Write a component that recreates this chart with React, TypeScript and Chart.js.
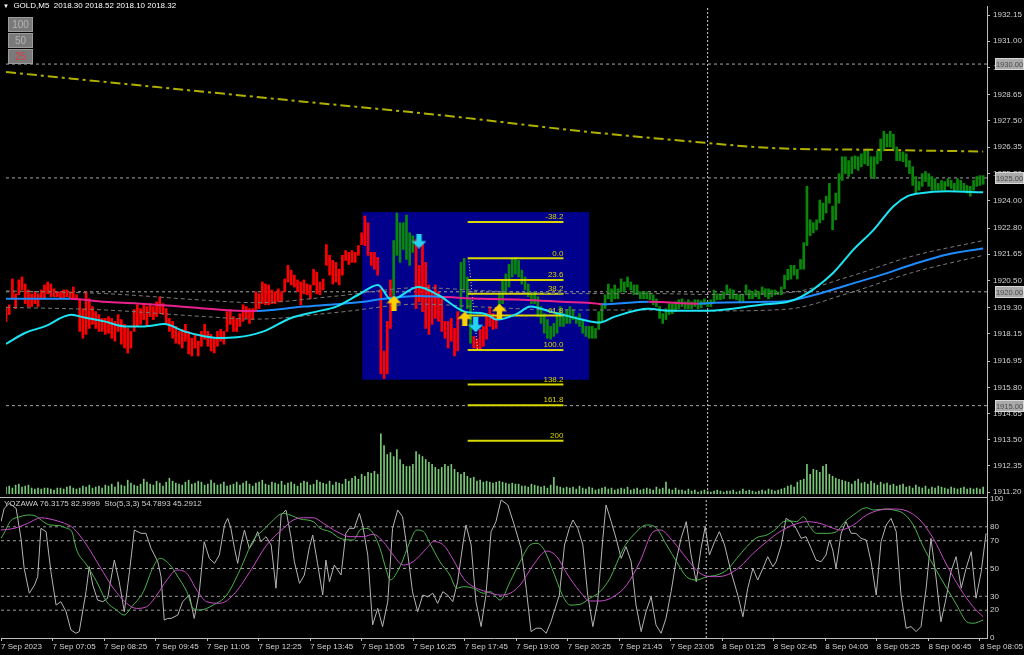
import React, { useEffect, useRef } from "react";
import { Chart, registerables } from "chart.js";

Chart.register(...registerables);

// ---------- DATA ----------
const timeLabels = ["7 Sep 2023","7 Sep 07:05","7 Sep 08:25","7 Sep 09:45","7 Sep 11:05","7 Sep 12:25","7 Sep 13:45","7 Sep 15:05","7 Sep 16:25","7 Sep 17:45","7 Sep 19:05","7 Sep 20:25","7 Sep 21:45","7 Sep 23:05","8 Sep 01:25","8 Sep 02:45","8 Sep 04:05","8 Sep 05:25","8 Sep 06:45","8 Sep 08:05"];
const barsPerLabel = 16;

const priceTicks = [1911.20,1912.35,1913.50,1914.65,1915.80,1916.95,1918.15,1919.30,1920.50,1921.65,1922.80,1924.00,1925.20,1926.35,1927.50,1928.65,1929.85,1931.00,1932.15];
const stochTicks = [0,20,30,50,70,80,100];
const stochLevels = [80,70,50,30,20];

const highs = [
1919.30,1919.43,1920.56,1919.91,1920.52,1920.65,1920.34,1920.08,1919.91,1920.00,
1919.91,1920.08,1920.30,1920.43,1920.34,1920.13,1920.00,1920.00,1920.08,1920.08,
1920.00,1920.21,1919.87,1919.69,1919.26,1920.00,1919.69,1919.35,1919.13,1919.00,
1918.83,1918.83,1918.91,1918.83,1918.70,1919.00,1918.78,1918.57,1918.39,1918.26,
1919.22,1919.43,1919.26,1919.48,1919.35,1919.48,1919.35,1919.56,1919.78,1919.48,
1919.26,1918.83,1918.70,1918.48,1918.26,1918.35,1918.57,1918.26,1917.96,1918.13,
1917.83,1918.26,1918.57,1918.26,1918.13,1917.96,1918.26,1918.35,1918.26,1919.13,
1919.22,1918.91,1918.83,1919.04,1919.43,1919.35,1919.26,1919.26,1920.00,1919.91,
1920.43,1920.34,1920.30,1920.08,1920.00,1920.13,1920.00,1920.56,1921.16,1920.95,
1920.73,1920.52,1920.43,1920.52,1920.34,1920.30,1920.99,1920.86,1920.43,1920.56,
1922.07,1921.60,1921.38,1921.29,1920.99,1921.60,1921.81,1921.73,1921.81,1921.73,
1922.03,1922.59,1923.33,1923.03,1921.73,1921.73,1921.51,1920.13,1917.40,1918.70,
1920.52,1922.25,1923.46,1923.03,1923.03,1923.37,1922.59,1922.46,1922.29,1921.16,
1922.16,1921.29,1920.30,1920.00,1920.30,1920.00,1919.69,1918.70,1918.70,1918.83,
1918.39,1919.13,1921.29,1921.47,1920.65,1919.65,1918.04,1917.92,1918.35,1918.48,
1919.04,1919.35,1919.04,1918.91,1919.91,1920.52,1920.78,1921.20,1921.42,1921.51,
1921.38,1920.95,1920.65,1920.34,1919.91,1920.00,1919.78,1919.35,1919.04,1918.78,
1918.48,1918.61,1919.04,1919.35,1919.04,1919.22,1919.35,1919.22,1918.91,1919.04,
1918.78,1918.48,1918.48,1918.48,1918.39,1919.13,1919.48,1919.87,1920.34,1920.13,
1920.30,1920.13,1920.56,1920.43,1920.65,1920.43,1920.30,1920.30,1920.00,1920.00,
1920.00,1919.95,1919.87,1919.69,1919.35,1919.04,1919.26,1919.48,1919.48,1919.56,
1919.65,1919.69,1919.56,1919.65,1919.56,1919.65,1919.65,1919.60,1919.69,1919.56,
1919.65,1920.08,1919.91,1919.91,1920.00,1920.30,1920.13,1920.08,1919.91,1919.87,
1919.87,1920.30,1920.08,1920.00,1920.08,1920.00,1920.21,1920.13,1920.13,1920.08,
1920.08,1920.00,1920.21,1920.73,1920.99,1921.16,1921.16,1920.99,1921.42,1922.16,
1924.63,1923.16,1923.03,1923.16,1924.03,1923.89,1924.20,1924.76,1923.76,1924.33,
1925.19,1925.93,1925.93,1925.76,1925.93,1925.97,1925.93,1926.06,1926.19,1926.27,
1925.93,1925.93,1926.19,1926.71,1927.05,1926.92,1927.05,1926.92,1926.36,1926.14,
1926.14,1926.06,1925.76,1925.49,1925.06,1924.84,1925.19,1925.28,1925.19,1925.06,
1924.97,1924.76,1924.89,1924.84,1924.97,1924.89,1924.76,1924.97,1924.89,1924.76,
1924.67,1924.63,1924.89,1925.06,1925.10,1925.10
];
const lows = [
1918.70,1919.00,1919.69,1919.26,1919.87,1920.08,1919.48,1919.35,1919.35,1919.48,
1919.35,1919.69,1919.69,1919.91,1919.78,1919.78,1919.78,1919.69,1919.69,1919.78,
1919.69,1919.69,1919.65,1918.26,1917.96,1918.13,1918.39,1918.57,1918.39,1918.26,
1918.26,1918.13,1918.18,1917.96,1917.83,1918.26,1917.70,1917.53,1917.31,1917.53,
1918.26,1918.48,1918.57,1918.78,1918.48,1918.91,1918.78,1918.91,1919.04,1919.00,
1918.61,1918.26,1917.96,1917.74,1917.70,1917.53,1917.83,1917.27,1917.18,1917.53,
1917.18,1917.61,1917.92,1917.61,1917.40,1917.31,1917.61,1917.83,1917.70,1918.26,
1918.57,1918.26,1918.26,1918.48,1918.70,1918.83,1918.61,1918.78,1919.13,1919.26,
1919.48,1919.43,1919.43,1919.48,1919.48,1919.56,1919.56,1920.00,1920.43,1920.30,
1920.21,1920.00,1919.43,1919.91,1919.87,1919.69,1920.30,1919.91,1919.87,1920.08,
1921.16,1920.73,1920.34,1920.43,1920.30,1920.73,1921.38,1921.20,1921.29,1921.29,
1921.60,1922.07,1922.03,1921.60,1921.16,1920.99,1920.73,1916.40,1916.19,1916.40,
1918.39,1919.69,1921.60,1921.29,1921.86,1921.42,1921.16,1921.73,1919.26,1919.56,
1919.13,1918.39,1918.13,1918.57,1918.83,1918.70,1918.26,1917.96,1917.53,1917.83,
1917.18,1917.40,1919.13,1920.08,1919.26,1917.74,1917.53,1917.44,1917.48,1917.61,
1917.92,1918.48,1918.35,1918.39,1918.91,1919.48,1919.91,1920.21,1920.65,1920.78,
1920.65,1920.34,1920.08,1919.78,1919.48,1919.48,1918.91,1918.61,1918.18,1917.96,
1917.92,1918.04,1918.18,1918.48,1918.48,1918.61,1918.61,1918.78,1918.61,1918.48,
1918.18,1918.04,1917.96,1917.96,1917.96,1918.35,1918.70,1919.26,1919.69,1919.56,
1919.69,1919.69,1920.00,1920.00,1920.21,1920.08,1919.87,1919.87,1919.69,1919.69,
1919.69,1919.65,1919.43,1919.35,1918.83,1918.61,1918.78,1919.00,1919.04,1919.13,
1919.26,1919.35,1919.26,1919.26,1919.26,1919.35,1919.26,1919.30,1919.43,1919.35,
1919.35,1919.56,1919.65,1919.65,1919.69,1919.87,1919.69,1919.69,1919.65,1919.56,
1919.56,1919.87,1919.69,1919.69,1919.78,1919.69,1919.87,1919.78,1919.69,1919.78,
1919.87,1919.87,1919.87,1920.13,1920.52,1920.56,1920.73,1920.56,1920.99,1920.99,
1922.03,1922.46,1922.59,1922.72,1923.03,1923.16,1923.46,1923.89,1922.72,1923.16,
1923.89,1924.89,1925.19,1925.06,1925.19,1925.41,1925.33,1925.49,1925.62,1925.54,
1925.06,1924.97,1925.62,1925.76,1926.19,1926.36,1926.36,1926.27,1925.76,1925.76,
1925.71,1925.49,1925.19,1924.67,1924.33,1924.46,1924.63,1924.84,1924.63,1924.46,
1924.46,1924.46,1924.46,1924.46,1924.63,1924.54,1924.41,1924.46,1924.46,1924.41,
1924.33,1924.20,1924.46,1924.63,1924.67,1924.72
];
// trend colouring segments: [firstBar, lastBar, direction]
const trendSegments: [number, number, string][] = [[0,120,"down"],[121,127,"up"],[128,141,"down"],[142,145,"up"],[146,153,"down"],[154,305,"up"]];

const tickVolume = [
7,8,6,9,10,7,8,9,6,5,6,5,6,6,5,4,6,6,5,7,8,6,5,6,8,7,9,6,7,8,6,
9,8,10,7,12,9,8,14,11,9,8,10,15,12,10,9,13,11,8,12,16,13,11,10,9,12,14,10,11,13,12,9,10,14,11,9,10,12,8,9,
10,12,9,11,13,10,8,11,12,14,10,9,12,11,10,13,9,11,12,10,8,11,13,12,9,10,14,12,11,10,13,9,12,11,10,
15,13,16,18,15,20,18,22,21,23,20,
61,49,40,42,38,45,35,30,28,28,30,43,40,38,35,32,30,27,25,27,30,28,30,25,22,20,22,18,16,17,13,14,12,13,
12,11,12,13,12,11,10,11,10,10,8,8,7,10,9,8,7,8,6,9,17,8,7,6,7,
6,7,5,8,6,5,7,6,4,5,6,7,5,6,4,5,6,5,7,4,5,6,4,5,6,5,4,7,5,6,12,5,4,6,4,
4,3,5,3,4,2,3,4,3,2,3,4,3,2,3,3,4,2,3,5,3,4,3,2,3,4,3,5,4,3,4,5,6,
8,9,7,12,14,15,30,
20,25,24,22,28,30,20,18,16,15,14,13,
12,10,13,15,11,12,10,13,11,9,12,10,11,9,10,8,9,10,
7,8,6,9,7,6,8,5,7,6,8,7,6,5,7,6,5,6,7,5,6,5,6,5,7
];

// fast moving average (cyan)
const fastMaX = [0,5.9,12.1,20.4,24.5,30.7,37,43.2,49.4,55.6,61.8,65.8,72,80.4,88.8,96.9,103.1,110,116.1,120.2,128.6,134.8,143.2,149.4,153.4,159.6,163.7,169.9,176.1,179.8,185.1,190,200.6,206.8,219.3,235.7,244.1,248.1,252.2,258.4,264.6,270.8,277,281.4,285.4,293.8,305];
const fastMaY = [1917.71,1918.19,1918.48,1918.99,1918.87,1918.70,1918.48,1918.48,1918.58,1918.26,1918.05,1917.97,1918.00,1918.26,1918.84,1919.13,1919.35,1919.87,1920.30,1919.65,1920.21,1919.87,1919.13,1919.04,1918.78,1919.04,1919.35,1919.13,1918.91,1918.78,1918.65,1918.91,1919.26,1919.17,1919.17,1919.43,1919.56,1919.78,1920.13,1920.86,1921.86,1922.72,1923.76,1924.20,1924.33,1924.41,1924.37];
// slow moving average (blue rising / pink falling)
const slowMaX = [0,20,30.7,41,51.6,61.8,74.2,78.3,92.9,103.1,111.5,116.1,128.6,135.7,148.8,161.2,173.6,184.5,186,200.6,216.1,221.1,237.9,244.1,252.2,262.7,273,283.2,293.8,305];
const slowMaY = [1919.69,1919.69,1919.56,1919.49,1919.39,1919.27,1919.16,1919.16,1919.35,1919.45,1919.56,1919.66,1919.82,1919.78,1919.69,1919.65,1919.56,1919.48,1919.45,1919.56,1919.48,1919.52,1919.56,1919.60,1919.86,1920.30,1920.73,1921.21,1921.64,1921.90];
const slowMaFalling: [number, number][] = [[20,78],[135.7,186],[200.6,216.1]];
// envelope around the slow MA
const envX = [0,31,62,78,103,129,149,174,201,221,244,263,283,305];
const envUpper = [1920.04,1919.92,1919.63,1919.52,1919.81,1920.18,1920.05,1919.92,1919.92,1919.88,1919.96,1920.66,1921.57,1922.25];
const envLower = [1919.32,1919.20,1918.91,1918.80,1919.09,1919.46,1919.33,1919.20,1919.20,1919.16,1919.24,1919.94,1920.85,1921.60];
// long moving average (olive dash-dot)
const longMaX = [0,46.3,92.9,139.4,179.8,219.3,237.9,273,305];
const longMaY = [1929.65,1929.00,1928.35,1927.70,1927.05,1926.53,1926.32,1926.23,1926.16];

const hLevels = [1930.00, 1925.00, 1920.00, 1915.00];
const separatorBar = 219;

// Fibonacci object
const fibBoxStart = 111.2, fibBoxEnd = 182, fibBoxHigh = 1923.50, fibBoxLow = 1916.14;
const fibStart = 144.1, fibEnd = 174;
const fibLabels = ["-38.2","0.0","23.6","38.2","61.8","100.0","138.2","161.8","200"];
const fibPrices = [1923.07,1921.47,1920.52,1919.91,1918.96,1917.44,1915.93,1915.02,1913.46];
const fibDiagX = [144.4, 147.2];
const fibDiagY = [1921.47, 1917.44];

// signal arrows
const upArrowX = [121.1, 143.2, 154];
const upArrowY = [1919.50, 1918.81, 1919.15];
const downArrowX = [128.9, 146.6];
const downArrowY = [1922.23, 1918.55];

// lower pane: YOZAWA oscillator (grey) and Stochastic (green main / magenta signal)
const yozawaX = [0,1,2.6,4.7,6.2,7.2,8.8,10.4,11.4,12.4,14,15.5,17.1,18.6,20.2,21.7,23.3,24.3,26.4,27.4,28.5,30,31.6,33.1,35.2,36.7,38.3,39.9,41.4,43.5,45,46.6,48.7,49.7,50.7,51.8,52.8,54.9,56.4,58.5,60,61.6,63.1,64.7,66.3,67.8,69.4,70.4,71.4,72.5,73.5,74.5,75.6,77.1,78.2,79.7,80.7,82.3,83.9,85.4,87,88.5,90.1,91.1,92.7,94.2,95.8,96.8,98.3,99.9,100.9,102,103.5,105.6,107.1,108.2,109.7,111.3,112.3,113.9,115.4,117,118.5,120.1,121.6,123.2,124.7,126.3,127.8,129.4,131,132.5,134.1,135.6,137.2,138.7,140.3,141.8,143.4,144.4,146,147.5,149.1,150.6,152.2,153.7,
155.3,157.4,159.4,161.5,163.1,164.6,166.2,167.7,169.3,170.8,173.4,175,176.5,177.6,179.1,180.7,182.2,183.8,185.3,186.9,187.9,189.5,191,192.6,194.1,195.7,197.2,198.8,200.3,201.9,203.4,205,206.5,208.1,209.6,211.2,212.8,214.3,215.9,217.4,218.7,220,221.6,223.1,224.7,226.7,228.8,230.4,231.9,233.5,235,236.6,238.1,239.7,240.7,242.3,243.8,245.4,246.9,248.5,250,251.6,253.1,254.7,256.2,257.3,258.3,259.3,260.9,262.4,264,265.5,267.1,268.7,270.2,271.8,273.3,274.9,276.4,278,279.5,281.1,282.6,284.2,285.7,287.3,288.8,290.4,291.9,293.5,295,296.6,298.2,299.7,301.3,302.8,304.4,305.9];
const yozawaY = [83.7,93.3,96.9,93.3,71.7,50.1,32.2,38.1,44.1,78.9,76.5,47.7,23.7,26.1,18.9,5.8,3.4,4.6,33.3,51.3,38.1,27.3,26.1,28.6,56.1,40.5,18.9,47.7,77.7,75.3,75.3,64.5,54.9,44.1,12.9,14.1,14.1,16.5,26.1,30.9,14.1,33.3,69.3,57.3,53.7,59.7,81.3,86.1,78.9,64.5,53.7,66.9,77.7,64.5,68.1,76.5,69.3,72.9,66.9,35.8,88.5,92.1,71.7,54.9,39.3,45.3,65.7,74.1,53.7,30.9,56.1,40.5,52.5,45.3,75.3,78.9,78.9,89.7,81.3,59.7,9.4,21.3,8.2,26.1,78.9,92.1,87.3,60.9,33.3,18.9,30.9,29.7,32.2,24.9,33.3,30.9,26.1,40.5,66.9,81.3,66.9,26.1,8.2,30.9,76.5,83.7,
99.3,95.7,81.3,64.5,35.8,4.6,7.0,7.0,3.4,11.7,30.9,66.9,78.9,84.9,78.9,66.9,30.9,8.2,26.1,71.7,95.7,83.7,71.7,57.3,65.7,54.9,23.7,4.6,18.9,29.7,9.4,3.4,14.1,33.3,54.9,71.7,83.7,59.7,40.5,64.5,80.1,59.7,69.3,76.5,66.9,47.7,30.9,15.3,35.8,50.1,41.7,50.1,58.5,51.3,54.9,66.9,86.1,83.7,78.9,71.7,72.9,64.5,56.1,54.9,59.7,70.5,63.3,50.1,75.3,83.7,75.3,75.3,71.7,70.5,54.9,30.9,69.3,81.3,86.1,76.5,30.9,7.0,8.2,4.6,8.2,35.8,71.7,43.0,11.7,28.6,47.7,58.5,35.8,50.1,62.1,28.6,47.7,75.3];
const stochMainX = [0,1.2,2.8,5.9,9,11.1,13.1,15.2,18.3,20.4,22,23.5,26.6,29.7,32.8,35.9,38.2,40.6,44.2,47.3,49.4,52.5,54.6,57.7,59.7,61.8,65.9,70.1,74.2,78.4,81.5,83.5,87.7,89.8,92.9,97,99.1,102.2,105.3,109.4,111.5,113.6,115.6,117.7,119.8,120.8,123.9,127,129.1,131.2,133.2,136.3,139.4,141.5,143.6,146.7,149.8,151.9,155,158.1,161.2,164.3,166.4,168.4,171.5,174.6,176.7,179.8,182.9,186,189.1,193.3,196.4,200.5,203.6,206.7,209.8,212.9,216,219.2,222.3,225.4,228.5,231.6,234.7,237.8,240.9,243,245,247.1,249.2,251.2,253.3,256.4,259.5,261.6,264.7,268.8,270.9,275.1,277.1,280.2,283.3,286.4,289.5,293.7,296.8,299.9,301.9,305];
const stochMainY = [71.7,76.5,83.7,87.3,88.5,87.3,83.7,81.3,80.8,78.9,76.5,63.3,52.5,40.5,26.1,20.1,16.5,22.5,33.3,51.3,57.3,52.5,45.3,33.3,21.3,20.1,23.7,30.9,48.9,70.5,77.7,82.5,89.7,88.5,85.6,83.7,78.9,76.5,71.7,70.5,77.7,78.9,75.3,64.5,47.7,41.7,51.3,69.3,77.7,76.5,68.1,54.9,45.3,35.8,36.9,35.8,32.2,33.3,27.3,40.5,54.9,66.9,68.1,64.5,47.7,29.7,23.7,24.2,28.6,33.3,42.9,64.5,74.1,81.3,78.9,66.9,54.9,44.1,41.7,44.1,45.3,48.9,57.3,65.7,72.2,74.1,78.9,83.7,84.2,83.7,87.3,80.1,75.3,75.3,76.5,82.5,88.5,93.7,92.1,92.8,92.1,89.7,81.3,65.7,52.5,35.8,23.7,11.7,10.6,12.9];
const stochSignalX = [0,4.1,8.3,12.4,15.2,19.7,22.5,26.6,30.7,34.9,39,42.1,45.2,48.4,51.5,54.6,57.7,60.8,63.9,68,72.1,77.3,82.5,87.7,90.8,93.9,97,100.1,104.3,108.4,112.5,115.6,118.7,121.8,124.9,128,132.2,134.3,137.4,140.5,143.6,146.7,150.8,155,158.1,161.2,165.3,169.5,172.6,175.7,179.8,182.9,186,190.2,194.3,198.4,202.6,204.7,208.8,212.9,217.1,221.2,225.4,229.5,233.6,237.8,241.9,246,250.2,254.3,258.5,260.6,264.7,268.8,273,277.1,281.3,285.4,289.5,293.7,297.8,301.9,305];
const stochSignalY = [77.7,78.9,82.5,86.5,85.6,82.5,78.9,66.9,51.3,35.8,25.0,21.3,22.5,30.9,41.7,48.9,46.5,34.5,26.1,25.0,30.9,47.7,66.9,78.9,84.9,86.5,86.5,82.5,76.5,72.9,72.9,74.6,69.3,59.7,52.5,54.9,64.5,69.3,66.9,56.1,42.9,36.9,33.3,30.9,32.2,38.1,52.5,62.6,58.5,46.5,33.3,26.6,26.6,29.7,38.1,54.9,76.5,77.7,69.3,57.3,46.5,44.1,45.3,51.3,60.9,69.3,76.5,81.3,83.7,82.5,78.9,77.7,81.3,88.5,92.1,92.8,91.4,84.9,71.7,52.5,35.8,22.5,15.3];

// ---------- STYLE ----------
const X_MIN = 0, X_MAX = 306.2;
const PRICE_MIN = 1911.12, PRICE_MAX = 1932.55;
const VOL_MAX = 495;
const FONT = "'Liberation Sans', Arial, sans-serif";
const AXIS = "#bdbdbd";
const TXT = "#d2d2d2";
const RED = "#ff0000", GREEN = "#0a870a";
const PINK = "#e8228c", BLUE = "#1e8cff", CYAN = "#1ce4f2";

const pts = (xs: number[], ys: number[]) => xs.map((x, i) => ({ x, y: ys[i] }));
const trendAt = (i: number) => { for (const s of trendSegments) if (i >= s[0] && i <= s[1]) return s[2]; return "up"; };
const isFalling = (x: number) => slowMaFalling.some(([a, b]) => x >= a && x < b);

function makeArrow(color: string, up: boolean) {
  const c = document.createElement("canvas");
  c.width = 15; c.height = 15;
  const g = c.getContext("2d")!;
  g.fillStyle = color;
  const p = [[7.5,0],[15,7.5],[10.2,7.5],[10.2,15],[4.8,15],[4.8,7.5],[0,7.5]];
  g.beginPath();
  p.forEach(([x, y], i) => { const yy = up ? y : 15 - y; if (i) g.lineTo(x, yy); else g.moveTo(x, yy); });
  g.closePath(); g.fill();
  return c;
}

const mainPlugin = {
  id: "mainDecor",
  beforeDatasetsDraw(chart: any) {
    const { ctx, scales } = chart; const x = scales.x, y = scales.y;
    const x0 = x.getPixelForValue(fibBoxStart), x1 = x.getPixelForValue(fibBoxEnd);
    const y0 = y.getPixelForValue(fibBoxHigh), y1 = y.getPixelForValue(fibBoxLow);
    ctx.save(); ctx.fillStyle = "#00008c"; ctx.fillRect(x0, y0, x1 - x0, y1 - y0); ctx.restore();
  },
  afterDatasetsDraw(chart: any) {
    const { ctx, scales } = chart; const x = scales.x, y = scales.y;
    ctx.save();
    ctx.font = `8px ${FONT}`; ctx.fillStyle = "#d4d400"; ctx.textAlign = "right"; ctx.textBaseline = "bottom";
    fibPrices.forEach((p, i) => ctx.fillText(fibLabels[i], x.getPixelForValue(fibEnd), y.getPixelForValue(p) - 1));
    ctx.restore();
  },
  afterDraw(chart: any) {
    const { ctx, scales, chartArea } = chart; const y = scales.y;
    ctx.save();
    ctx.font = `7.5px ${FONT}`; ctx.textBaseline = "middle"; ctx.textAlign = "center";
    hLevels.forEach((v) => {
      const py = Math.round(y.getPixelForValue(v));
      const bx = chartArea.right + 8;
      ctx.fillStyle = "#a9a9a9"; ctx.fillRect(bx, py - 6, 29, 12);
      ctx.strokeStyle = "#d8d8d8"; ctx.lineWidth = 1; ctx.strokeRect(bx + 0.5, py - 5.5, 28, 11);
      ctx.fillStyle = "#4a4a4a"; ctx.fillText(v.toFixed(2), bx + 14.5, py + 0.5);
    });
    ctx.restore();
  },
};

const subPlugin = {
  id: "subDecor",
  afterDraw(chart: any) {
    const { ctx, chartArea } = chart;
    ctx.save(); ctx.strokeStyle = AXIS; ctx.lineWidth = 1;
    ctx.beginPath();
    ctx.moveTo(0, chartArea.top - 1.5); ctx.lineTo(chartArea.right, chartArea.top - 1.5);
    ctx.moveTo(chartArea.right + 0.5, 0); ctx.lineTo(chartArea.right + 0.5, chartArea.top);
    ctx.stroke(); ctx.restore();
  },
};

export default function App() {
  const mainRef = useRef<HTMLCanvasElement>(null);
  const subRef = useRef<HTMLCanvasElement>(null);

  useEffect(() => {
    const upImg = makeArrow("#ffd000", true);
    const downImg = makeArrow("#22d4f0", false);
    const lineBase = { type: "line", pointRadius: 0, fill: false, borderWidth: 1 };

    const main = new Chart(mainRef.current as HTMLCanvasElement, {
      type: "bar",
      data: {
        datasets: [
          { ...lineBase, data: pts(upArrowX, upArrowY), showLine: false, pointStyle: upImg, pointRadius: 5, order: 0 },
          { ...lineBase, data: pts(downArrowX, downArrowY), showLine: false, pointStyle: downImg, pointRadius: 5, order: 0 },
          { ...lineBase, data: pts(fastMaX, fastMaY), borderColor: CYAN, borderWidth: 2, cubicInterpolationMode: "monotone", order: 1 },
          { ...lineBase, data: pts(slowMaX, slowMaY), borderColor: BLUE, borderWidth: 2, cubicInterpolationMode: "monotone", order: 2,
            segment: { borderColor: (c: any) => (isFalling(c.p0.parsed.x) ? PINK : BLUE) } },
          { ...lineBase, data: pts(envX, envUpper), borderColor: "#7a7a7a", borderDash: [4, 3], cubicInterpolationMode: "monotone", order: 3 },
          { ...lineBase, data: pts(envX, envLower), borderColor: "#7a7a7a", borderDash: [4, 3], cubicInterpolationMode: "monotone", order: 3 },
          { ...lineBase, data: pts(longMaX, longMaY), borderColor: "#b0b000", borderWidth: 2, borderDash: [10, 4, 3, 4], cubicInterpolationMode: "monotone", order: 3 },
          ...fibPrices.map((p) => ({ ...lineBase, data: [{ x: fibStart, y: p }, { x: fibEnd, y: p }], borderColor: "#d8d800", borderWidth: 2, order: 4 })),
          { ...lineBase, data: pts(fibDiagX, fibDiagY), borderColor: "#e8e8b0", borderDash: [1, 2], order: 4 },
          { ...lineBase, data: [{ x: separatorBar, y: PRICE_MIN }, { x: separatorBar, y: PRICE_MAX }], borderColor: "#cfcfcf", borderDash: [2, 2], order: 6 },
          ...hLevels.map((v) => ({ ...lineBase, data: [{ x: X_MIN, y: v }, { x: X_MAX, y: v }], borderColor: "#a6a6a6", borderDash: [3, 3], order: 6 })),
          { type: "bar", data: highs.map((h, i) => ({ x: i, y: [lows[i], h] })), backgroundColor: highs.map((_, i) => (trendAt(i) === "up" ? GREEN : RED)),
            barThickness: 2, grouped: false, borderWidth: 0, order: 5 },
          { type: "bar", yAxisID: "vol", data: tickVolume.map((v, i) => ({ x: i, y: v })), backgroundColor: "#78c878",
            barThickness: 1, grouped: false, borderWidth: 0, order: 7 },
        ],
      } as any,
      options: {
        responsive: false, animation: false, devicePixelRatio: 1, events: [],
        layout: { padding: { left: 1, top: 0, right: 0, bottom: 5 } },
        plugins: { legend: { display: false }, tooltip: { enabled: false } },
        scales: {
          x: { type: "linear", min: X_MIN, max: X_MAX, display: false, offset: false },
          y: {
            type: "linear", position: "right", min: PRICE_MIN, max: PRICE_MAX,
            afterBuildTicks: (s: any) => { s.ticks = priceTicks.map((v) => ({ value: v })); },
            afterFit: (s: any) => { s.width = 37; s.paddingTop = 0; s.paddingBottom = 0; },
            ticks: { color: TXT, font: { family: FONT, size: 8 }, padding: 3, autoSkip: false, callback: (v: any) => Number(v).toFixed(2) },
            grid: { drawOnChartArea: false, drawTicks: true, tickLength: 3, color: AXIS },
            border: { display: true, color: AXIS },
          },
          vol: { type: "linear", display: false, min: 0, max: VOL_MAX },
        },
      } as any,
      plugins: [mainPlugin],
    } as any);

    const sub = new Chart(subRef.current as HTMLCanvasElement, {
      type: "line",
      data: {
        datasets: [
          { ...lineBase, data: pts(stochSignalX, stochSignalY), borderColor: "#c64cc6", cubicInterpolationMode: "monotone", order: 1 },
          { ...lineBase, data: pts(stochMainX, stochMainY), borderColor: "#4cb44c", cubicInterpolationMode: "monotone", order: 2 },
          { ...lineBase, data: pts(yozawaX, yozawaY), borderColor: "#b4b4b4", tension: 0, order: 3 },
          { ...lineBase, data: [{ x: separatorBar, y: 0 }, { x: separatorBar, y: 100 }], borderColor: "#cfcfcf", borderDash: [2, 2], order: 4 },
          ...stochLevels.map((v) => ({ ...lineBase, data: [{ x: X_MIN, y: v }, { x: X_MAX, y: v }], borderColor: "#9a9a9a", borderDash: [3, 3], order: 5 })),
        ],
      } as any,
      options: {
        responsive: false, animation: false, devicePixelRatio: 1, events: [],
        layout: { padding: { left: 1, top: 9, right: 0, bottom: 0 } },
        plugins: { legend: { display: false }, tooltip: { enabled: false } },
        scales: {
          x: {
            type: "linear", min: X_MIN, max: X_MAX, offset: false,
            afterBuildTicks: (s: any) => { s.ticks = timeLabels.map((_, i) => ({ value: i * barsPerLabel })); },
            afterFit: (s: any) => { s.height = 17; s.paddingLeft = 0; s.paddingRight = 0; },
            ticks: { align: "start", color: TXT, font: { family: FONT, size: 8 }, padding: 1, maxRotation: 0, autoSkip: false,
              callback: (_v: any, i: number) => timeLabels[i] },
            grid: { drawOnChartArea: false, drawTicks: true, tickLength: 3, color: AXIS },
            border: { display: true, color: AXIS },
          },
          y: {
            type: "linear", position: "right", min: 0, max: 100,
            afterBuildTicks: (s: any) => { s.ticks = stochTicks.map((v) => ({ value: v })); },
            afterFit: (s: any) => { s.width = 37; s.paddingTop = 0; s.paddingBottom = 0; },
            ticks: { color: TXT, font: { family: FONT, size: 8 }, padding: 3, autoSkip: false },
            grid: { drawOnChartArea: false, drawTicks: false },
            border: { display: true, color: AXIS },
          },
        },
      } as any,
      plugins: [subPlugin],
    } as any);

    return () => { main.destroy(); sub.destroy(); };
  }, []);

  const btn = (top: number, label: string, color: string) => (
    <div style={{ position: "absolute", left: 8, top, width: 23, height: 13, background: "#7a7a7a", border: "1px solid #9c9c9c",
      color, font: `10px ${FONT}`, lineHeight: "13px", textAlign: "center" }}>{label}</div>
  );

  return (
    <div style={{ position: "fixed", left: 0, top: 0, width: 1024, height: 655, background: "#000", overflow: "hidden" }}>
      <canvas ref={mainRef} width={1024} height={500} style={{ position: "absolute", left: 0, top: 0 }} />
      <canvas ref={subRef} width={1024} height={165} style={{ position: "absolute", left: 0, top: 490 }} />
      <div style={{ position: "absolute", left: 3, top: 1, color: "#ffffff", font: `8px ${FONT}`, whiteSpace: "pre" }}>
        <span style={{ fontSize: 6 }}>▼</span>{"  GOLD,M5  2018.30 2018.52 2018.10 2018.32"}
      </div>
      {btn(17, "100", "#b4b4b4")}
      {btn(33, "50", "#b4b4b4")}
      {btn(49, "25", "#d84040")}
      <div style={{ position: "absolute", left: 4, top: 499, color: "#d0d0d0", font: `8px ${FONT}`, whiteSpace: "pre" }}>
        {"YOZAWA 76.3175 82.9999  Sto(5,3,3) 54.7893 45.2912"}
      </div>
    </div>
  );
}
